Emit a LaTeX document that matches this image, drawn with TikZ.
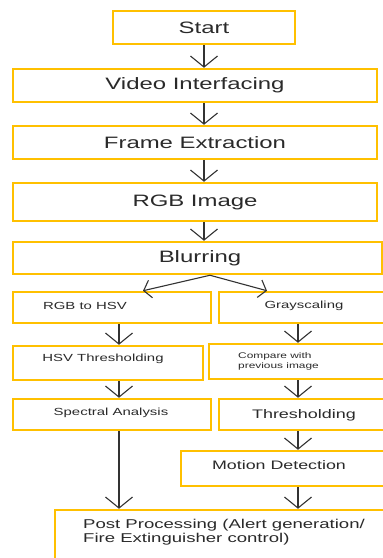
\documentclass[tikz,border=0pt]{standalone}
\usepackage{fontspec}
\setmainfont{Liberation Sans}[FakeStretch=1.45]
\usetikzlibrary{arrows.meta,calc}
\definecolor{boxor}{HTML}{FFC000}
\definecolor{arrc}{HTML}{333333}
\definecolor{textc}{HTML}{2A2A2A}
\begin{document}
\begin{tikzpicture}[x=1pt,y=-1pt,
  box/.style={draw=boxor,line width=2.5pt,rectangle,inner sep=0pt,text=textc},
  lbl/.style={inner sep=0pt,text=textc},
  big/.style={font=\fontsize{16.5}{18}\selectfont},
  small/.style={font=\fontsize{10.3}{12}\selectfont},
  arr/.style={draw=arrc,line width=1.1pt,-{Straight Barb[length=11pt,width=27pt,line width=1.1pt]}},
  sarr/.style={draw=arrc,line width=1.1pt,-{Straight Barb[length=7pt,width=18pt,line width=1.1pt]}}]
\useasboundingbox (0,0) rectangle (383,558);
\fill[white] (0,0) rectangle (383,558);
\clip (0,0) rectangle (383,558);
\coordinate (mc) at (204,0);
\coordinate (lc) at (119,0);
\coordinate (rc) at (298,0);
% main column
\node[box,big,minimum width=182pt,minimum height=33pt] (start) at (204,27.5) {Start};
\node[box,big,minimum width=364pt,minimum height=33pt] (video) at (195,85.5) {Video Interfacing};
\node[box,big,minimum width=364pt,minimum height=33pt] (frame) at (195,142.5) {Frame Extraction};
\node[box,big,minimum width=364pt,minimum height=38pt] (rgb) at (195,202) {RGB Image};
\node[box,minimum width=369pt,minimum height=32pt] (blur) at (197.5,258) {};
\node[lbl,big] (blurT) at (200,258) {Blurring};
% left column
\node[box,minimum width=198pt,minimum height=31pt] (rgbhsv) at (112,307.5) {};
\node[lbl,small] (rgbhsvT) at (85,306) {RGB to HSV};
\node[box,minimum width=190pt,minimum height=34pt] (hsvth) at (108,363) {};
\node[lbl,small] (hsvthT) at (103,359) {HSV Thresholding};
\node[box,minimum width=198pt,minimum height=31pt] (spec) at (112,414.5) {};
\node[lbl,small] (specT) at (111,413) {Spectral Analysis};
% right column
\node[box,minimum width=166pt,minimum height=31pt] (gray) at (302,307.5) {};
\node[lbl,small] (grayT) at (304,306) {Grayscaling};
\node[box,minimum width=176pt,minimum height=35pt] (cmp) at (297,361.5) {};
\node[lbl,anchor=west,align=left,font=\fontsize{8.2}{9.5}\selectfont] (cmpT) at (238,361.5) {Compare with\\previous image};
\node[box,minimum width=166pt,minimum height=31pt] (thr) at (302,414.5) {};
\node[lbl,font=\fontsize{12.4}{14}\selectfont] (thrT) at (304,415) {Thresholding};
\node[box,minimum width=204pt,minimum height=35pt] (motion) at (283,468.5) {};
\node[lbl,font=\fontsize{12.3}{14}\selectfont] (motionT) at (279,465) {Motion Detection};
% post
\node[box,minimum width=340pt,minimum height=70pt] (post) at (225,545) {};
\node[lbl,anchor=west,align=left,font=\fontsize{12.8}{14}\selectfont] (postT) at (83,532) {Post Processing (Alert generation/\\Fire Extinguisher control)};
% arrows main
\draw[arr] (start.south -| mc) -- (video.north -| mc);
\draw[arr] (video.south -| mc) -- (frame.north -| mc);
\draw[arr] (frame.south -| mc) -- (rgb.north -| mc);
\draw[arr] (rgb.south -| mc) -- (blur.north -| mc);
% split
\draw[sarr] ($(blur.south)+(12.5,0)$) -- ($(rgbhsv.north)+(31,0)$);
\draw[sarr] ($(blur.south)+(12.5,0)$) -- ($(gray.north)+(-35,0)$);
% left arrows
\draw[arr] (rgbhsv.south -| lc) -- (hsvth.north -| lc);
\draw[arr] (hsvth.south -| lc) -- (spec.north -| lc);
\draw[arr] (spec.south -| lc) -- (post.north -| lc);
% right arrows
\draw[arr] (gray.south -| rc) -- (cmp.north -| rc);
\draw[arr] (cmp.south -| rc) -- (thr.north -| rc);
\draw[arr] (thr.south -| rc) -- (motion.north -| rc);
\draw[arr] (motion.south -| rc) -- (post.north -| rc);
\end{tikzpicture}
\end{document}
